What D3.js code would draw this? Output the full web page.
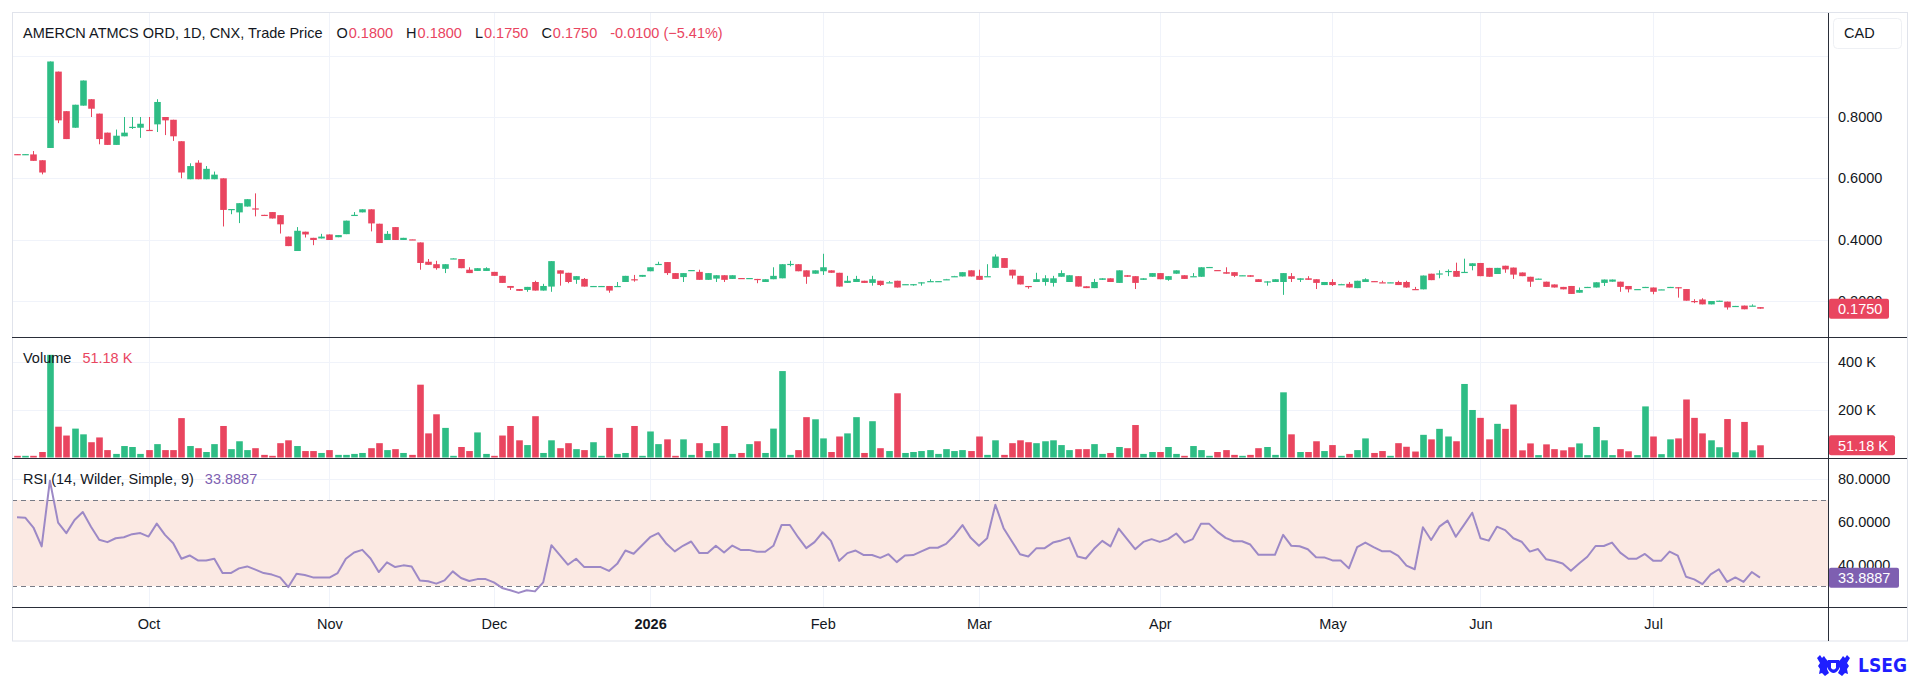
<!DOCTYPE html>
<html>
<head>
<meta charset="utf-8">
<script src="https://cdnjs.cloudflare.com/ajax/libs/d3/7.8.5/d3.min.js"></script>
<style>
    body { margin: 0; background: #fff; }
    svg text { font-family: "Liberation Sans", Arial, sans-serif; fill: #131722; }
</style>
</head>
<body>
<svg id="chart" width="1920" height="680"></svg>
<script>

// daily bars, oldest first
const opens = [
    0.679, 0.677, 0.678, 0.659, 0.699, 0.948, 0.819, 0.765, 0.837, 0.858,
    0.811, 0.749, 0.709, 0.737, 0.766, 0.765, 0.758, 0.776, 0.800, 0.791,
    0.721, 0.597, 0.651, 0.597, 0.597, 0.600, 0.497, 0.489, 0.508, 0.502,
    0.481, 0.490, 0.480, 0.410, 0.363, 0.426, 0.406, 0.404, 0.417, 0.408,
    0.418, 0.479, 0.489, 0.499, 0.452, 0.399, 0.441, 0.399, 0.401, 0.391,
    0.328, 0.320, 0.305, 0.337, 0.337, 0.302, 0.298, 0.298, 0.295, 0.282,
    0.249, 0.239, 0.236, 0.262, 0.234, 0.247, 0.300, 0.292, 0.269, 0.272,
    0.247, 0.248, 0.249, 0.247, 0.262, 0.271, 0.279, 0.297, 0.319, 0.327,
    0.291, 0.278, 0.299, 0.295, 0.269, 0.273, 0.284, 0.272, 0.275, 0.274,
    0.272, 0.262, 0.271, 0.274, 0.319, 0.320, 0.300, 0.289, 0.297, 0.300,
    0.292, 0.259, 0.262, 0.266, 0.259, 0.266, 0.260, 0.266, 0.254, 0.254,
    0.260, 0.264, 0.264, 0.270, 0.280, 0.280, 0.300, 0.282, 0.280, 0.308,
    0.340, 0.302, 0.282, 0.249, 0.262, 0.262, 0.259, 0.279, 0.262, 0.281,
    0.248, 0.242, 0.269, 0.274, 0.259, 0.284, 0.281, 0.269, 0.279, 0.291,
    0.269, 0.289, 0.284, 0.280, 0.279, 0.309, 0.301, 0.294, 0.294, 0.283,
    0.284, 0.271, 0.263, 0.262, 0.262, 0.281, 0.269, 0.274, 0.271, 0.252,
    0.262, 0.254, 0.256, 0.242, 0.262, 0.265, 0.261, 0.260, 0.262, 0.262,
    0.239, 0.238, 0.289, 0.289, 0.297, 0.298, 0.294, 0.314, 0.324, 0.308,
    0.288, 0.315, 0.309, 0.293, 0.279, 0.271, 0.263, 0.254, 0.246, 0.249,
    0.227, 0.245, 0.244, 0.259, 0.263, 0.263, 0.249, 0.238, 0.245, 0.244,
    0.237, 0.245, 0.245, 0.239, 0.200, 0.205, 0.189, 0.200, 0.198, 0.183,
    0.185, 0.184, 0.180
];

const highs = [
    0.679, 0.679, 0.689, 0.659, 0.981, 0.948, 0.819, 0.840, 0.919, 0.858,
    0.811, 0.749, 0.759, 0.800, 0.800, 0.800, 0.800, 0.858, 0.800, 0.791,
    0.721, 0.649, 0.659, 0.640, 0.622, 0.600, 0.500, 0.519, 0.532, 0.551,
    0.481, 0.490, 0.480, 0.410, 0.441, 0.426, 0.406, 0.419, 0.417, 0.415,
    0.462, 0.490, 0.499, 0.499, 0.452, 0.428, 0.441, 0.406, 0.401, 0.391,
    0.337, 0.331, 0.320, 0.339, 0.337, 0.310, 0.307, 0.310, 0.295, 0.282,
    0.249, 0.239, 0.246, 0.266, 0.256, 0.330, 0.300, 0.292, 0.281, 0.275,
    0.249, 0.249, 0.249, 0.262, 0.282, 0.285, 0.285, 0.310, 0.328, 0.327,
    0.291, 0.291, 0.301, 0.302, 0.291, 0.284, 0.284, 0.284, 0.275, 0.275,
    0.272, 0.271, 0.310, 0.320, 0.331, 0.320, 0.300, 0.300, 0.354, 0.300,
    0.292, 0.282, 0.282, 0.266, 0.282, 0.266, 0.265, 0.266, 0.255, 0.255,
    0.261, 0.271, 0.265, 0.272, 0.282, 0.294, 0.300, 0.302, 0.320, 0.352,
    0.340, 0.302, 0.282, 0.249, 0.292, 0.284, 0.282, 0.300, 0.284, 0.281,
    0.248, 0.272, 0.274, 0.274, 0.300, 0.284, 0.281, 0.274, 0.291, 0.291,
    0.281, 0.300, 0.284, 0.291, 0.310, 0.311, 0.301, 0.310, 0.294, 0.284,
    0.284, 0.271, 0.264, 0.271, 0.291, 0.291, 0.274, 0.281, 0.271, 0.262,
    0.271, 0.256, 0.262, 0.266, 0.274, 0.265, 0.266, 0.261, 0.266, 0.266,
    0.246, 0.283, 0.289, 0.300, 0.303, 0.325, 0.338, 0.323, 0.324, 0.308,
    0.308, 0.315, 0.309, 0.293, 0.279, 0.273, 0.263, 0.254, 0.246, 0.249,
    0.244, 0.246, 0.261, 0.270, 0.270, 0.263, 0.249, 0.239, 0.246, 0.244,
    0.238, 0.246, 0.245, 0.239, 0.206, 0.209, 0.200, 0.201, 0.198, 0.184,
    0.185, 0.189, 0.180
];

const lows = [
    0.677, 0.677, 0.657, 0.613, 0.699, 0.780, 0.728, 0.765, 0.837, 0.800,
    0.711, 0.709, 0.709, 0.737, 0.761, 0.732, 0.757, 0.751, 0.741, 0.722,
    0.600, 0.597, 0.597, 0.597, 0.597, 0.443, 0.483, 0.454, 0.508, 0.476,
    0.479, 0.469, 0.420, 0.379, 0.363, 0.407, 0.382, 0.404, 0.399, 0.408,
    0.418, 0.479, 0.489, 0.427, 0.389, 0.399, 0.399, 0.399, 0.400, 0.302,
    0.318, 0.302, 0.291, 0.337, 0.307, 0.291, 0.298, 0.298, 0.282, 0.259,
    0.236, 0.233, 0.230, 0.234, 0.234, 0.230, 0.250, 0.258, 0.256, 0.247,
    0.247, 0.248, 0.227, 0.247, 0.262, 0.263, 0.279, 0.297, 0.319, 0.285,
    0.272, 0.262, 0.299, 0.269, 0.269, 0.262, 0.262, 0.272, 0.274, 0.274,
    0.258, 0.262, 0.271, 0.274, 0.313, 0.297, 0.256, 0.289, 0.285, 0.292,
    0.247, 0.259, 0.262, 0.259, 0.250, 0.249, 0.260, 0.244, 0.254, 0.250,
    0.250, 0.264, 0.264, 0.270, 0.280, 0.280, 0.280, 0.269, 0.280, 0.308,
    0.308, 0.273, 0.254, 0.240, 0.262, 0.250, 0.247, 0.279, 0.262, 0.247,
    0.242, 0.242, 0.269, 0.262, 0.259, 0.279, 0.239, 0.269, 0.279, 0.271,
    0.266, 0.289, 0.272, 0.280, 0.279, 0.309, 0.300, 0.289, 0.278, 0.283,
    0.279, 0.262, 0.250, 0.262, 0.220, 0.262, 0.262, 0.269, 0.239, 0.252,
    0.249, 0.254, 0.244, 0.242, 0.262, 0.263, 0.260, 0.260, 0.252, 0.243,
    0.238, 0.238, 0.268, 0.274, 0.281, 0.279, 0.294, 0.300, 0.281, 0.279,
    0.288, 0.292, 0.272, 0.281, 0.246, 0.271, 0.246, 0.244, 0.238, 0.223,
    0.227, 0.245, 0.244, 0.249, 0.263, 0.230, 0.228, 0.238, 0.245, 0.222,
    0.237, 0.245, 0.211, 0.201, 0.193, 0.189, 0.189, 0.200, 0.172, 0.183,
    0.173, 0.184, 0.175
];

const closes = [
    0.677, 0.679, 0.657, 0.619, 0.981, 0.789, 0.728, 0.840, 0.919, 0.827,
    0.728, 0.709, 0.739, 0.749, 0.768, 0.778, 0.757, 0.849, 0.789, 0.737,
    0.619, 0.640, 0.597, 0.631, 0.612, 0.497, 0.500, 0.519, 0.532, 0.499,
    0.479, 0.469, 0.450, 0.379, 0.429, 0.417, 0.399, 0.410, 0.399, 0.415,
    0.462, 0.481, 0.499, 0.453, 0.389, 0.419, 0.399, 0.406, 0.400, 0.324,
    0.318, 0.307, 0.320, 0.339, 0.307, 0.291, 0.307, 0.307, 0.282, 0.259,
    0.243, 0.233, 0.246, 0.234, 0.249, 0.330, 0.289, 0.262, 0.281, 0.247,
    0.249, 0.249, 0.234, 0.249, 0.282, 0.270, 0.285, 0.310, 0.321, 0.291,
    0.272, 0.291, 0.301, 0.269, 0.291, 0.284, 0.269, 0.284, 0.274, 0.275,
    0.271, 0.271, 0.282, 0.320, 0.321, 0.297, 0.279, 0.300, 0.310, 0.292,
    0.247, 0.266, 0.272, 0.259, 0.271, 0.252, 0.261, 0.244, 0.255, 0.255,
    0.261, 0.265, 0.265, 0.271, 0.281, 0.294, 0.280, 0.269, 0.281, 0.345,
    0.308, 0.283, 0.254, 0.248, 0.271, 0.274, 0.274, 0.291, 0.284, 0.247,
    0.242, 0.262, 0.274, 0.262, 0.300, 0.279, 0.259, 0.274, 0.291, 0.271,
    0.281, 0.300, 0.272, 0.281, 0.310, 0.311, 0.300, 0.289, 0.282, 0.284,
    0.279, 0.262, 0.264, 0.271, 0.291, 0.272, 0.274, 0.269, 0.259, 0.262,
    0.252, 0.255, 0.244, 0.266, 0.271, 0.263, 0.260, 0.261, 0.252, 0.244,
    0.238, 0.283, 0.268, 0.290, 0.298, 0.279, 0.295, 0.323, 0.281, 0.279,
    0.308, 0.303, 0.286, 0.281, 0.263, 0.273, 0.246, 0.244, 0.238, 0.223,
    0.236, 0.246, 0.261, 0.270, 0.270, 0.246, 0.238, 0.239, 0.246, 0.230,
    0.238, 0.246, 0.244, 0.201, 0.199, 0.189, 0.200, 0.201, 0.179, 0.184,
    0.173, 0.185, 0.175
];

// volume, thousands of shares
const volumes = [
    7, 7, 7, 23, 430, 129, 92, 121, 97, 64,
    84, 31, 15, 48, 44, 15, 31, 56, 31, 31,
    165, 48, 39, 23, 56, 132, 35, 68, 31, 39,
    11, 7, 60, 72, 48, 27, 27, 19, 31, 11,
    11, 15, 19, 39, 60, 31, 35, 19, 11, 305,
    101, 181, 124, 7, 44, 27, 105, 15, 7, 92,
    132, 72, 52, 173, 19, 72, 39, 60, 35, 31,
    64, 7, 124, 15, 19, 132, 7, 109, 56, 76,
    7, 76, 11, 60, 27, 60, 132, 15, 19, 56,
    68, 19, 121, 362, 11, 31, 169, 160, 80, 23,
    88, 101, 169, 19, 152, 39, 27, 269, 19, 23,
    27, 31, 15, 35, 27, 31, 27, 88, 11, 72,
    11, 60, 72, 64, 60, 68, 72, 52, 31, 35,
    35, 56, 15, 19, 44, 39, 136, 15, 23, 23,
    44, 15, 7, 48, 31, 7, 23, 31, 11, 7,
    11, 39, 44, 11, 273, 97, 23, 23, 68, 27,
    52, 7, 15, 31, 80, 19, 27, 7, 60, 45,
    25, 95, 76, 120, 88, 68, 308, 199, 166, 76,
    141, 120, 222, 30, 59, 10, 55, 35, 30, 43,
    59, 10, 128, 72, 10, 35, 26, 10, 214, 88,
    14, 76, 80, 243, 166, 101, 72, 43, 161, 22,
    149, 30, 51.18
];

// RSI (14, Wilder) as plotted
const rsiValues = [
    62.0, 61.8, 57.2, 48.4, 79.0, 59.5, 54.6, 60.7, 64.4, 57.6,
    51.5, 50.4, 52.2, 52.7, 54.1, 54.6, 53.0, 59.0, 53.8, 49.9,
    42.7, 44.2, 41.9, 41.9, 42.7, 36.0, 36.0, 38.2, 39.1, 37.6,
    36.0, 35.3, 34.0, 29.5, 35.7, 35.1, 34.0, 34.0, 33.9, 36.0,
    42.7, 45.6, 46.8, 42.8, 36.5, 41.0, 38.8, 39.6, 39.1, 32.6,
    32.2, 31.1, 32.6, 36.8, 33.7, 32.3, 33.2, 33.2, 31.7, 29.1,
    28.0, 26.8, 28.0, 27.5, 31.7, 49.0, 44.5, 39.9, 42.7, 38.8,
    38.8, 38.8, 37.0, 40.3, 46.5, 45.0, 48.8, 52.7, 54.6, 49.6,
    46.1, 48.7, 50.7, 45.3, 45.3, 48.7, 45.6, 48.8, 46.8, 46.8,
    45.9, 45.9, 48.7, 58.4, 58.4, 52.7, 47.6, 50.4, 55.0, 51.0,
    41.7, 45.3, 46.5, 44.4, 44.4, 43.1, 44.8, 41.1, 44.2, 44.4,
    46.1, 47.8, 47.8, 49.6, 53.5, 58.3, 52.4, 48.7, 52.2, 67.8,
    56.9, 50.8, 44.8, 43.7, 47.6, 47.6, 50.2, 51.2, 52.5, 43.7,
    42.8, 47.3, 51.0, 48.4, 56.7, 51.9, 47.1, 50.5, 51.8, 50.5,
    51.8, 54.4, 50.2, 51.8, 58.9, 58.9, 55.3, 52.4, 50.8, 50.8,
    49.3, 44.5, 44.5, 44.5, 53.8, 48.7, 48.5, 47.1, 43.4, 43.3,
    41.9, 41.9, 38.2, 48.1, 50.2, 48.1, 46.2, 46.2, 44.0, 39.5,
    37.8, 57.3, 51.4, 57.6, 60.4, 52.9, 58.4, 64.1, 52.2, 51.1,
    57.6, 56.0, 52.2, 50.6, 46.0, 47.2, 42.4, 41.6, 40.5, 37.1,
    40.5, 43.6, 48.6, 48.6, 50.2, 45.5, 42.7, 42.7, 44.9, 41.8,
    41.8, 46.0, 44.1, 34.3, 33.1, 30.9, 35.4, 37.8, 31.9, 34.0,
    31.9, 36.5, 33.8887
];

// first bar of each month and its label
const monthStarts = [16, 38, 58, 77, 98, 117, 139, 160, 178, 199];
const monthLabels = ['Oct', 'Nov', 'Dec', '2026', 'Feb', 'Mar', 'Apr', 'May', 'Jun', 'Jul'];

const priceTicks = [0.2, 0.4, 0.6, 0.8];
const priceGrid = [0.2, 0.4, 0.6, 0.8, 1.0];
const volumeTicks = [200, 400];
const rsiTicks = [40, 60, 80];
const rsiBand = [30, 70];


(function () {

    const UP = '#2ebd85',
        DOWN = '#e9455f',
        GRID = '#f0f3fa',
        BORDER = '#e0e3eb',
        DARK = '#2a2e39',
        RSI_LINE = '#9d89c6',
        RSI_TAG = '#7e5fb1';

    const FONT = 14.5;

    const frameLeft = 12, frameRight = 1907, axisX = 1828,
        frameTop = 13, priceBottom = 337, volumeBottom = 458, rsiBottom = 607, frameBottom = 641;

    const n = closes.length;

    const x = d3.scaleLinear().domain([0, n - 1]).range([17, 1760]);
    const yPrice = d3.scaleLinear().domain([0.2, 0.8]).range([301, 117]);
    const yVolume = d3.scaleLinear().domain([0, 400]).range([457.5, 362]);
    const yRsi = d3.scaleLinear().domain([30, 70]).range([586, 500]);

    const svg = d3.select('#chart');

    function isUp (i) {
        return closes[i] >= opens[i];
    }

    function crisp (v) {
        return Math.round(v) + 0.5;
    }

    // grid
    const grid = svg.append('g').attr('class', 'grid')
        .attr('stroke', GRID).attr('stroke-width', 1);

    grid.selectAll('line.v')
        .data(monthStarts)
        .join('line')
        .attr('class', 'v')
        .attr('x1', d => crisp(x(d))).attr('x2', d => crisp(x(d)))
        .attr('y1', frameTop).attr('y2', rsiBottom);

    grid.selectAll('line.p')
        .data(priceGrid)
        .join('line')
        .attr('class', 'p')
        .attr('x1', frameLeft).attr('x2', axisX)
        .attr('y1', d => crisp(yPrice(d))).attr('y2', d => crisp(yPrice(d)));

    grid.selectAll('line.vol')
        .data(volumeTicks)
        .join('line')
        .attr('class', 'vol')
        .attr('x1', frameLeft).attr('x2', axisX)
        .attr('y1', d => crisp(yVolume(d))).attr('y2', d => crisp(yVolume(d)));

    grid.selectAll('line.r')
        .data(rsiTicks)
        .join('line')
        .attr('class', 'r')
        .attr('x1', frameLeft).attr('x2', axisX)
        .attr('y1', d => crisp(yRsi(d))).attr('y2', d => crisp(yRsi(d)));

    // rsi band
    svg.append('rect')
        .attr('x', frameLeft + 1)
        .attr('width', axisX - frameLeft - 1)
        .attr('y', yRsi(rsiBand[1]))
        .attr('height', yRsi(rsiBand[0]) - yRsi(rsiBand[1]))
        .attr('fill', '#fbe9e3');

    svg.selectAll('line.band')
        .data(rsiBand)
        .join('line')
        .attr('class', 'band')
        .attr('x1', frameLeft).attr('x2', axisX)
        .attr('y1', d => crisp(yRsi(d))).attr('y2', d => crisp(yRsi(d)))
        .attr('stroke', '#787b86')
        .attr('stroke-dasharray', '5,4');

    // candles
    const candles = svg.append('g').attr('class', 'candles');

    candles.selectAll('line')
        .data(d3.range(n))
        .join('line')
        .attr('x1', i => crisp(x(i))).attr('x2', i => crisp(x(i)))
        .attr('y1', i => yPrice(highs[i]))
        .attr('y2', i => yPrice(lows[i]))
        .attr('stroke', i => isUp(i) ? UP : DOWN)
        .attr('stroke-width', 1);

    candles.selectAll('rect')
        .data(d3.range(n))
        .join('rect')
        .attr('x', i => Math.round(x(i)) - 2.8)
        .attr('width', 6.6)
        .attr('y', i => yPrice(Math.max(opens[i], closes[i])))
        .attr('height', i => Math.max(1.2, Math.abs(yPrice(opens[i]) - yPrice(closes[i]))))
        .attr('fill', i => isUp(i) ? UP : DOWN);

    // volume
    svg.append('g').attr('class', 'volume')
        .selectAll('rect')
        .data(d3.range(n))
        .join('rect')
        .attr('x', i => Math.round(x(i)) - 2.8)
        .attr('width', 6.6)
        .attr('y', i => yVolume(volumes[i]))
        .attr('height', i => yVolume(0) - yVolume(volumes[i]))
        .attr('fill', i => isUp(i) ? UP : DOWN);

    // rsi line
    svg.append('path')
        .datum(d3.range(n))
        .attr('fill', 'none')
        .attr('stroke', RSI_LINE)
        .attr('stroke-width', 2)
        .attr('stroke-linejoin', 'round')
        .attr('d', d3.line()
            .x(i => x(i))
            .y(i => yRsi(rsiValues[i])));

    // frame
    svg.append('rect')
        .attr('x', frameLeft + 0.5).attr('y', frameTop - 0.5)
        .attr('width', frameRight - frameLeft).attr('height', frameBottom - frameTop + 0.5)
        .attr('fill', 'none')
        .attr('stroke', BORDER);

    svg.selectAll('line.sep')
        .data([priceBottom, volumeBottom, rsiBottom])
        .join('line')
        .attr('class', 'sep')
        .attr('x1', frameLeft).attr('x2', frameRight)
        .attr('y1', d => d + 0.5).attr('y2', d => d + 0.5)
        .attr('stroke', DARK);

    svg.append('line')
        .attr('x1', axisX + 0.5).attr('x2', axisX + 0.5)
        .attr('y1', frameTop).attr('y2', frameBottom)
        .attr('stroke', DARK);

    // axes
    function rightAxis (scale, ticks, format) {
        const g = svg.append('g')
            .attr('transform', 'translate(' + (axisX + 6) + ',0)')
            .call(d3.axisRight(scale).tickValues(ticks).tickFormat(format).tickSize(0).tickPadding(4));
        g.select('.domain').remove();
        g.selectAll('text')
            .attr('font-size', FONT)
            .attr('font-family', '"Liberation Sans", Arial, sans-serif')
            .attr('fill', '#131722');
        return g;
    }

    rightAxis(yPrice, priceTicks, d3.format('.4f'));
    rightAxis(yVolume, volumeTicks, d => d + ' K');
    rightAxis(yRsi, rsiTicks, d3.format('.4f'));

    const xAxis = svg.append('g')
        .attr('transform', 'translate(0,' + (rsiBottom + 8) + ')')
        .call(d3.axisBottom(x).tickValues(monthStarts).tickFormat((d, i) => monthLabels[i]).tickSize(0).tickPadding(4));
    xAxis.select('.domain').remove();
    xAxis.selectAll('text')
        .attr('font-size', FONT)
        .attr('font-family', '"Liberation Sans", Arial, sans-serif')
        .attr('fill', '#131722')
        .attr('font-weight', (d, i) => monthLabels[i] === '2026' ? 'bold' : null);

    // last value tags
    function tag (y, label, color, width) {
        svg.append('rect')
            .attr('x', axisX + 1).attr('y', y - 10)
            .attr('width', width).attr('height', 20)
            .attr('rx', 2)
            .attr('fill', color);
        svg.append('text')
            .attr('x', axisX + 10).attr('y', y)
            .attr('dy', '0.36em')
            .attr('font-size', FONT)
            .style('fill', '#fff')
            .text(label);
    }

    const last = n - 1;
    const fmt4 = d3.format('.4f');

    tag(yPrice(closes[last]), fmt4(closes[last]), DOWN, 60);
    tag(yVolume(volumes[last]), d3.format('.2f')(volumes[last]) + ' K', DOWN, 66);
    tag(yRsi(rsiValues[last]), fmt4(rsiValues[last]), RSI_TAG, 70);

    // currency box
    svg.append('rect')
        .attr('x', 1833.5).attr('y', 18.5)
        .attr('width', 68).attr('height', 30)
        .attr('rx', 4)
        .attr('fill', '#fff')
        .attr('stroke', '#eef0f4');
    svg.append('text')
        .attr('x', 1844).attr('y', 33).attr('dy', '0.36em')
        .attr('font-size', FONT)
        .text('CAD');

    // legends
    const change = closes[last] - closes[last - 1];
    const pct = change / closes[last - 1] * 100;

    const header = svg.append('text')
        .attr('x', 23).attr('y', 33).attr('dy', '0.36em')
        .attr('font-size', FONT);

    header.append('tspan').text('AMERCN ATMCS ORD, 1D, CNX, Trade Price');
    [['O', opens[last]], ['H', highs[last]], ['L', lows[last]], ['C', closes[last]]].forEach(function (p, k) {
        header.append('tspan').attr('dx', k === 0 ? 14 : 13).text(p[0]);
        header.append('tspan').attr('dx', 1).style('fill', DOWN).text(fmt4(p[1]));
    });
    header.append('tspan').attr('dx', 13).style('fill', DOWN)
        .text(fmt4(change).replace('\u2212', '-') + ' (' + (pct < 0 ? '\u2212' : '+') + d3.format('.2f')(Math.abs(pct)) + '%)');

    const volLegend = svg.append('text')
        .attr('x', 23).attr('y', 358).attr('dy', '0.36em')
        .attr('font-size', FONT);
    volLegend.append('tspan').text('Volume');
    volLegend.append('tspan').attr('dx', 11).style('fill', DOWN)
        .text(d3.format('.2f')(volumes[last]) + ' K');

    const rsiLegend = svg.append('text')
        .attr('x', 23).attr('y', 479).attr('dy', '0.36em')
        .attr('font-size', FONT);
    rsiLegend.append('tspan').text('RSI (14, Wilder, Simple, 9)');
    rsiLegend.append('tspan').attr('dx', 11).style('fill', RSI_TAG)
        .text(fmt4(rsiValues[last]));

    // LSEG mark
    const logo = svg.append('g').attr('transform', 'translate(1816,655)').attr('fill', '#1f1fff');
    logo.append('path')
        .attr('d', 'M1,3 L4,0 L6,3 L8,1 L10,4 L12,6 L13,10 L11,14 L13,18 L9,21 L6,18 L3,19 L4,14 L2,11 L4,8 Z');
    logo.append('path')
        .attr('d', 'M34,3 L31,0 L29,3 L27,1 L25,4 L23,6 L22,10 L24,14 L22,18 L26,21 L29,18 L32,19 L31,14 L33,11 L31,8 Z');
    logo.append('path')
        .attr('d', 'M12,5 L23,5 L23,14 Q17.5,22 12,14 Z');
    logo.append('path')
        .attr('fill', '#fff')
        .attr('d', 'M15,8 L20,8 L20,13 Q17.5,16 15,13 Z');
    svg.append('text')
        .attr('x', 1858).attr('y', 672)
        .attr('font-size', 19)
        .attr('font-weight', 'bold')
        .attr('textLength', 49)
        .attr('lengthAdjust', 'spacingAndGlyphs')
        .style('fill', '#1f1fff')
        .style('font-family', '"DejaVu Sans", sans-serif')
        .text('LSEG');

})();

</script>
</body>
</html>
